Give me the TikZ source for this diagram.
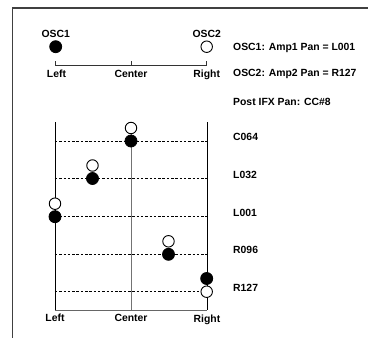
\documentclass[tikz,border=0pt]{standalone}
\usepackage{fontspec}
\setmainfont{Liberation Sans}
\usetikzlibrary{positioning}

\tikzset{
  lbl/.style={font=\fontsize{10.4}{12}\selectfont\bfseries,inner sep=0pt},
  pan1/.style={circle,draw,fill=black,line width=0.8pt,minimum size=12pt,inner sep=0pt},
  pan2/.style={circle,draw,fill=white,line width=0.9pt,minimum size=11.5pt,inner sep=0pt},
  guide/.style={dash pattern=on 2.5pt off 1.8pt,line width=0.6pt},
}

\begin{document}
\begin{tikzpicture}[x=1pt,y=-1pt]
\useasboundingbox (0,0) rectangle (368,338);
% frame
\draw[line width=1.2pt,black!75] (368,8) -- (12.5,8) -- (12.5,338);

% amp pan scale
\node[lbl,anchor=base] (osc1) at (55.7,37.5) {OSC1};
\node[lbl,anchor=base] (osc2) at (206.7,37.5) {OSC2};
\node[pan1] (d1) at (55.7,46.7) {};
\node[pan2] (d2) at (206.7,46.7) {};
\coordinate (sl) at (55.7,65.7);
\coordinate (sc) at (131,65.7);
\coordinate (sr) at (206.7,65.7);
\draw[line width=0.8pt,black!80] ([yshift=4.7pt]sl) -- (sl) -- (sr) -- ([yshift=4.7pt]sr);
\draw[line width=0.8pt,black!80] (sc) -- ([yshift=4.7pt]sc);
\node[lbl,anchor=base] (sleft) at (56.5,77.3) {Left};
\node[lbl,anchor=base] (scenter) at (131,77.3) {Center};
\node[lbl,anchor=base] (sright) at (206.7,77.5) {Right};

\node[lbl,anchor=base west] (amp1) at (233,50.5) {OSC1: Amp1 Pan = L001};
\node[lbl,anchor=base west] (amp2) at (233,76) {OSC2: Amp2 Pan = R127};
\node[lbl,anchor=base west] (post) at (233,105) {Post IFX Pan: CC\#8};

% post IFX pan
\coordinate (tl) at (55,122);
\coordinate (tc) at (131,122);
\coordinate (tr) at (207,122);
\coordinate (bl) at (55,310);
\coordinate (bc) at (131,310);
\coordinate (br) at (207,310);
\foreach \y/\v [count=\i] in {141/C064,178.5/L032,216.7/L001,254.3/R096,291.7/R127} {
  \coordinate (g\i l) at (55,\y);
  \coordinate (g\i r) at (207,\y);
  \draw[guide] (g\i l) -- (g\i r);
  \node[lbl,anchor=base west] (cc\i) at (233,\y-0.5) {\v};
}
\draw[line width=0.9pt,black!55] (tc) -- (bc);
\draw[line width=0.9pt,black!60] (bl) -- (br);
\draw[line width=0.8pt] (tl) -- (bl);
\draw[line width=0.8pt] (tr) -- (br);

\foreach \x/\y [count=\i] in {131/141,92.5/178.5,55/216.7,168.5/254.3} {
  \node[pan2] (off\i) at (\x,\y-13) {};
  \node[pan1] (on\i) at (\x,\y) {};
}
\node[pan1] (on5) at (206.7,278.5) {};
\node[pan2] (off5) at (206.7,291.7) {};

\node[lbl,anchor=base] (bleft) at (55,321.5) {Left};
\node[lbl,anchor=base] (bcenter) at (131,321.5) {Center};
\node[lbl,anchor=base] (bright) at (207,322.5) {Right};
\end{tikzpicture}
\end{document}
